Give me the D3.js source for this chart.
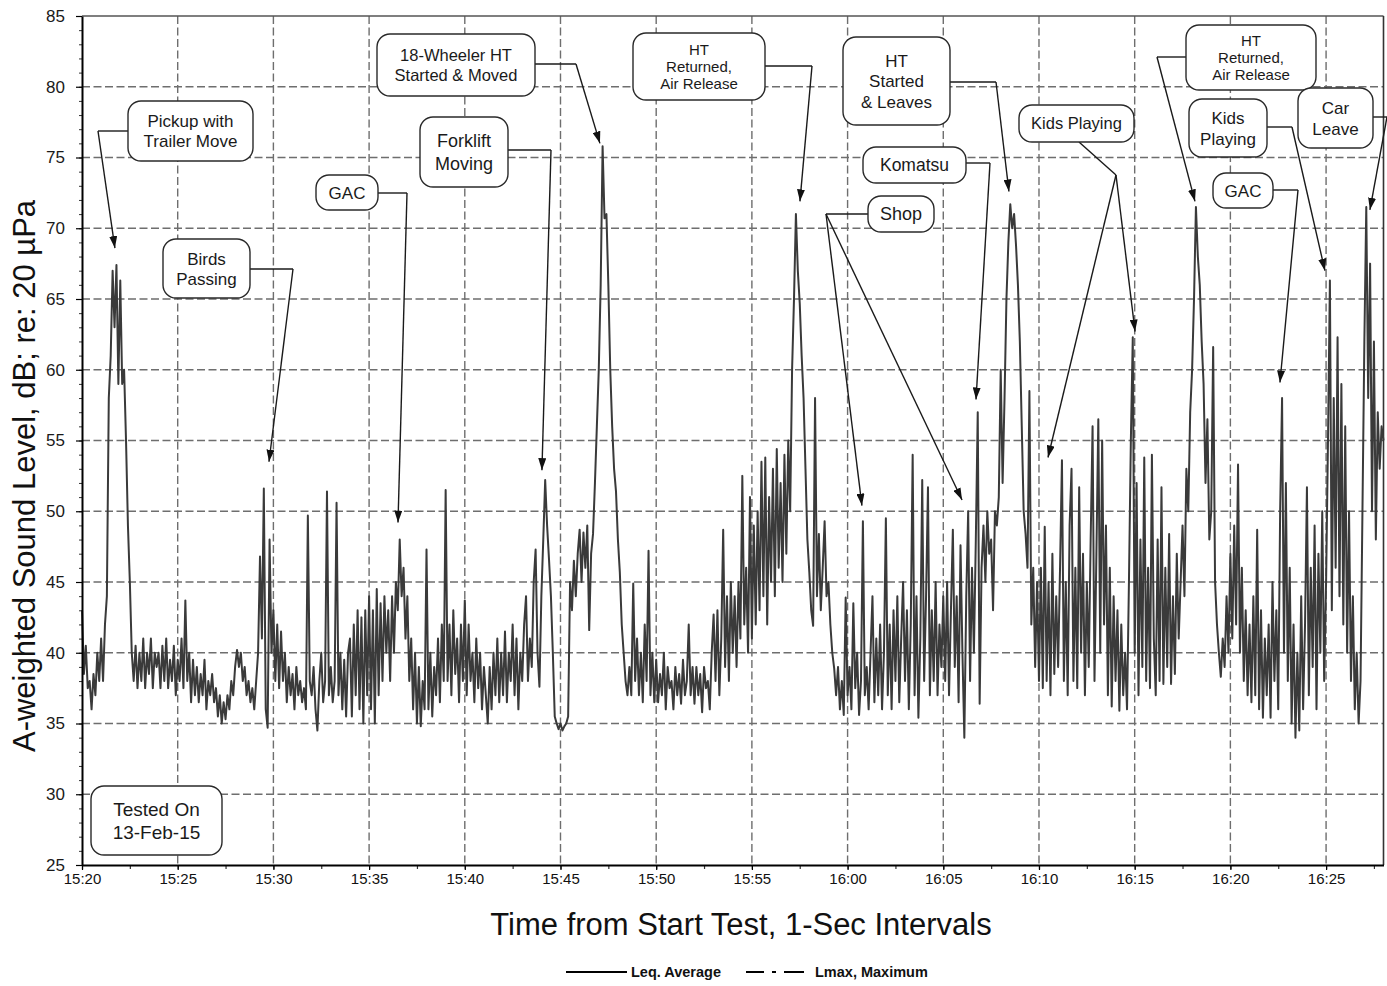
<!DOCTYPE html>
<html><head><meta charset="utf-8">
<script src="https://cdn.jsdelivr.net/npm/d3@7"></script>
<style>
body{margin:0;background:#fff;}
svg{display:block;}
text{font-family:Arial,"Liberation Sans",Helvetica,sans-serif;}
</style>
</head><body>
<svg id="chart" width="1387" height="986"></svg>
<script>
// ---------------- DATA ----------------
// Time axis: minutes after 15:20, one sample every 0.1 min (6 s)
const sampleStepMin = 0.1;
// A-weighted sound level (dB), one row per minute (10 samples)
const leqRows = [
 [43,38.5,40.5,37.5,38,36,38.5,37,40,38],
 [41,38,42,44,58,61,67,63,67.4,59],
 [66.3,59,60,55,49,45,40,38,40.5,37.5],
 [40,38,41,37.5,40,38.5,41,37.5,40,39],
 [40,37.5,40.5,38,41,37.5,39.5,38,40.5,37],
 [39.5,38,41,37.5,43.7,38,40,36.5,39.5,37],
 [39,36.5,38.5,37,39.5,36,38,37,38.5,36.5],
 [37.5,35.5,37,35,36.5,35.3,37,36,38,37],
 [39,40.2,39,40,38,39,37,38,36.5,37.5],
 [36,38,40,46.8,41,51.6,36,34.7,48,40],
 [43,38,42,37.5,41.5,38,40,36.5,39,37],
 [38.5,36,39,37,38,36.5,37.5,36,49.7,38],
 [37,39,36,34.5,38,40,36.5,38,51.4,37],
 [39,36.5,38,50.6,37,40,36,39.5,35.5,40],
 [41,35.5,42,37,43,36,42.5,35,43,37],
 [44,36,43,35,44.5,37,43.5,38,44,40],
 [43,38,44,40,45,43,48,44,46,41],
 [44,38,41,36,40,35,39,34.8,38,36],
 [47.3,36,40,35.5,39,37,41,36.5,42,38],
 [51.5,38,42,37,43,38.5,41,36.5,42,38],
 [43.7,37,42,38,40,36.5,41,37.5,40,36],
 [39,37,35,39,36,40,37,41,36.5,40],
 [37,41.5,36.5,40,38,42,37,41,36,40],
 [38,42,44,38,41,39,45,47.3,40,37.6],
 [44,48,52.2,49,46.6,44,40,35.5,35,34.6],
 [35,34.5,34.8,35,35.5,45,43,46.5,44,47],
 [48.7,45,48.5,46,49,41.6,47,48.4,52,56],
 [60,66,75.8,70.7,71,66,60,56,53,51.4],
 [48,45.7,42,40,38,37,39,37,44.9,38],
 [41,37,40,36.5,42,38,47.2,37,40,36.5],
 [39.5,36.5,38.5,37,40,36,39,37.5,38,36],
 [39,37,38.5,36.4,39.5,37,38,42,37,39],
 [36.4,39,37,38.5,35.8,39,37.5,38,36,40],
 [42.7,38,43,37,41,48.7,39,44,38,45],
 [40,44,39,45,41,52.5,42,46,40,51],
 [41,49,42,50,43,53.5,44,53.8,42,51],
 [45,53,44,54.4,46,52,45,54,47,55],
 [50,60,65,71,67,64.7,61,58,53,48],
 [45.7,43,41.9,58,44,48.4,43,46,49.3,44],
 [45,42,40,38.9,37,39,36,38,35.6,43.9],
 [37,39,36,43.5,37.5,40,35.6,38,49.3,37],
 [39,36,40,44,36.5,41,37,42,36,40],
 [49.5,37,42,36,43,38,44,36.5,41,45],
 [38,43,36,42,54,37,44,35.4,41,52.2],
 [38,44,51.7,37,43,38,45,37,42,39],
 [44,38,45,37,43,48.7,39,44,36.5,47.6],
 [40,34,44,50,38,46,40,48,57,36.4],
 [46,49,45,50,47,48,43,50,49,51],
 [60,52,58,65,69,71.7,70,71,68.8,66],
 [62,56,50,48.4,46,58.5,42,46,39,45],
 [38,46,37.5,48.9,38,45,37,47,38.5,44],
 [39,46,53.6,38,45,37,49,53,38,46],
 [37.5,51.7,40,47,37,45,39,48,56,38],
 [47,56.5,40,55,42,49,37,46,36.2,44],
 [38,43,35.9,42,37,40,36,45,55,62.3],
 [40,52,37,48,39,53.8,38,46,37.5,54],
 [41,37,48,38,51.7,37.8,46,39,48.4,37.8],
 [44,38.5,47,41,45,49,44,53,50,57],
 [60,65,71.5,68,66,62,59,52,56.5,48],
 [50,61.6,45,42,40,38.3,41,39,44,40],
 [47,41,49,42,53.3,40,46,38,43,37],
 [42,36.5,44,37,48.7,36,43,35.4,41,37],
 [42,35.4,45,38,43,36,50,58,40,52],
 [38,46,35,42,34,40,34.5,44,36,42],
 [51.7,37,46,39,49,36,47,40,50,38],
 [45,55,66.3,43,58,46,62.3,44,59,42],
 [56,40,50,38,44,36,40,35,38,50],
 [62,71.5,58,67.5,50,62,48,57,53,56],
 [55]
];
const xTickMinutes = [0,5,10,15,20,25,30,35,40,45,50,55,60,65];
const xTickLabels = ["15:20","15:25","15:30","15:35","15:40","15:45","15:50","15:55","16:00","16:05","16:10","16:15","16:20","16:25"];
const yTicks = [25,30,35,40,45,50,55,60,65,70,75,80,85];
const xDomain = [0,68];
const yDomain = [25,85];
const legendLabels = ["Leq. Average","Lmax, Maximum"];
// annotation labels and the (minute, dB) points their arrows point at
const noteLabels = [
 ["Pickup with","Trailer Move"],
 ["Birds","Passing"],
 ["GAC"],
 ["18-Wheeler  HT","Started & Moved"],
 ["Forklift","Moving"],
 ["HT","Returned,","Air Release"],
 ["HT","Started","& Leaves"],
 ["Komatsu"],
 ["Shop"],
 ["Kids Playing"],
 ["HT","Returned,","Air Release"],
 ["Kids","Playing"],
 ["Car","Leave"],
 ["GAC"],
 ["Tested On","13-Feb-15"]
];
const noteTargets = [
 [[1.72,68.6]],
 [[9.77,53.5]],
 [[16.51,49.2]],
 [[27.06,76.0]],
 [[24.03,52.9]],
 [[37.51,71.9]],
 [[48.43,72.6]],
 [[46.71,57.9]],
 [[40.75,50.4],[45.98,50.8]],
 [[50.47,53.8],[55.02,62.7]],
 [[58.15,71.9]],
 [[64.94,67.0]],
 [[67.29,71.3]],
 [[62.59,59.1]],
 []
];

// ---------------- LAYOUT ----------------
// box: [x, y, w, h], start of leader, knee of leader, font size, line height
const noteLayout = [
 {box:[128,101,125,60], from:[128,131], knee:[98,131], fs:17, lh:20},
 {box:[163,239,87,59], from:[250,269], knee:[293,269], fs:17, lh:20},
 {box:[316,175,62,35], from:[378,193], knee:[407,193], fs:17, lh:20},
 {box:[377,34,158,62], from:[535,64], knee:[576,64], fs:16.5, lh:20},
 {box:[420,117,88,70], from:[508,150], knee:[551,150], fs:18, lh:23},
 {box:[633,33,132,67], from:[765,66], knee:[812,66], fs:15, lh:17},
 {box:[843,37,107,88], from:[950,82], knee:[996,82], fs:17, lh:20.5},
 {box:[863,147,103,36], from:[966,163], knee:[990,163], fs:17.5, lh:20},
 {box:[868,196,66,36], from:[868,214], knee:[826,214], fs:18, lh:20},
 {box:[1019,105,115,37], from:[1079,142], knee:[1116,175], fs:16.5, lh:20},
 {box:[1186,25,130,65], from:[1186,57], knee:[1157,57], fs:15, lh:17},
 {box:[1189,99,78,58], from:[1267,127], knee:[1292,127], fs:17, lh:21},
 {box:[1298,88,75,60], from:[1373,117], knee:[1387,117], fs:17, lh:21},
 {box:[1213,173,60,35], from:[1273,190], knee:[1298,190], fs:17, lh:20},
 {box:[91,786,131,69], from:null, knee:null, fs:19, lh:23}
];

const leqValues = leqRows.flat();
const leqPoints = leqValues.map((v,i)=>[i*sampleStepMin, v]);

const svg = d3.select("#chart");
const M = {left:82, right:1383.5, top:16, bottom:865};
const x = d3.scaleLinear().domain(xDomain).range([M.left, M.right]);
const y = d3.scaleLinear().domain(yDomain).range([M.bottom, M.top]);

// defs: arrowhead
svg.append("defs").append("marker")
  .attr("id","arr").attr("viewBox","0 0 12 8").attr("refX",12).attr("refY",4)
  .attr("markerWidth",12).attr("markerHeight",8).attr("markerUnits","userSpaceOnUse")
  .attr("orient","auto")
  .append("path").attr("d","M0,0 L12,4 L0,8 Z").attr("fill","#111");

// grid
const grid = svg.append("g");
grid.selectAll("line.gv").data(xTickMinutes.filter(d=>d>xDomain[0])).join("line")
  .attr("class","gv")
  .attr("x1",d=>x(d)).attr("x2",d=>x(d)).attr("y1",y(yDomain[1])).attr("y2",y(yDomain[0]))
  .attr("stroke","#6e6e6e").attr("stroke-width",1.4).attr("stroke-dasharray","8,3.5");
grid.selectAll("line.gh").data(yTicks.filter(d=>d>yDomain[0] && d<yDomain[1])).join("line")
  .attr("class","gh")
  .attr("x1",x(xDomain[0])).attr("x2",x(xDomain[1])).attr("y1",d=>y(d)).attr("y2",d=>y(d))
  .attr("stroke","#6e6e6e").attr("stroke-width",1.4).attr("stroke-dasharray","8,3.5");
// frame top and right
svg.append("line").attr("x1",x(xDomain[0])).attr("x2",x(xDomain[1])).attr("y1",y(yDomain[1])).attr("y2",y(yDomain[1]))
  .attr("stroke","#555").attr("stroke-width",1.4);
svg.append("line").attr("x1",x(xDomain[1])).attr("x2",x(xDomain[1])).attr("y1",y(yDomain[1])).attr("y2",y(yDomain[0]))
  .attr("stroke","#333").attr("stroke-width",1.6);

// data line
svg.append("path").datum(leqPoints)
  .attr("fill","none").attr("stroke","#3a3a3a").attr("stroke-width",2)
  .attr("stroke-linejoin","round")
  .attr("d", d3.line().x(d=>x(d[0])).y(d=>y(d[1])));

// axes
const yMinor = d3.range(yDomain[0], yDomain[1]+1, 1);
svg.append("g").attr("transform",`translate(${M.left},0)`)
  .call(d3.axisLeft(y).tickValues(yMinor).tickSize(3).tickSizeOuter(0).tickFormat(""))
  .call(g=>g.select(".domain").remove())
  .call(g=>g.selectAll("line").attr("stroke","#333").attr("stroke-width",1));
const yAxisG = svg.append("g").attr("transform",`translate(${M.left},0)`)
  .call(d3.axisLeft(y).tickValues(yTicks).tickSize(6).tickSizeOuter(0).tickPadding(11).tickFormat(d3.format("d")));
yAxisG.select(".domain").attr("stroke","#000").attr("stroke-width",2);
yAxisG.selectAll("line").attr("stroke","#000").attr("stroke-width",1.2);
yAxisG.selectAll("text").attr("font-size",17).attr("fill","#1a1a1a")
  .attr("font-family","Arial, 'Liberation Sans', sans-serif");

const xMinor = d3.range(xDomain[0], xDomain[1]+0.01, 2.5);
svg.append("g").attr("transform",`translate(0,${M.bottom})`)
  .call(d3.axisBottom(x).tickValues(xMinor).tickSize(4).tickSizeOuter(0).tickFormat(""))
  .call(g=>g.select(".domain").remove())
  .call(g=>g.selectAll("line").attr("stroke","#333").attr("stroke-width",1.2));
const xAxisG = svg.append("g").attr("transform",`translate(0,${M.bottom})`)
  .call(d3.axisBottom(x).tickValues(xTickMinutes).tickSize(5).tickSizeOuter(0).tickPadding(3)
    .tickFormat((d,i)=>xTickLabels[i]));
xAxisG.select(".domain").attr("stroke","#000").attr("stroke-width",2);
xAxisG.selectAll("line").attr("stroke","#000").attr("stroke-width",1.2);
xAxisG.selectAll("text").attr("font-size",15).attr("fill","#111")
  .attr("font-family","Arial, 'Liberation Sans', sans-serif");

// axis titles
svg.append("text").attr("transform","translate(35,476) rotate(-90)")
  .attr("text-anchor","middle").attr("font-size",31).attr("fill","#111")
  .text("A-weighted Sound Level, dB; re: 20 \u00B5Pa");
svg.append("text").attr("x",741).attr("y",935)
  .attr("text-anchor","middle").attr("font-size",31).attr("fill","#111")
  .text("Time from Start Test, 1-Sec Intervals");

// legend
const lg = svg.append("g");
lg.append("line").attr("x1",566).attr("x2",627).attr("y1",972).attr("y2",972)
  .attr("stroke","#000").attr("stroke-width",2);
lg.append("text").attr("x",631).attr("y",977).attr("font-size",14.5).attr("font-weight","bold")
  .attr("fill","#111").text(legendLabels[0]);
lg.append("line").attr("x1",746).attr("x2",804).attr("y1",972).attr("y2",972)
  .attr("stroke","#000").attr("stroke-width",2).attr("stroke-dasharray","18,8,4,8,20");
lg.append("text").attr("x",815).attr("y",977).attr("font-size",14.5).attr("font-weight","bold")
  .attr("fill","#111").text(legendLabels[1]);

// annotations
const notes = svg.append("g");
noteLabels.forEach((lines, k)=>{
  const L = noteLayout[k];
  const tips = noteTargets[k];
  if (L.from) {
    notes.append("path")
      .attr("d",`M${L.from[0]},${L.from[1]} L${L.knee[0]},${L.knee[1]}`)
      .attr("fill","none").attr("stroke","#1a1a1a").attr("stroke-width",1.4);
    tips.forEach(t=>{
      notes.append("path")
        .attr("d",`M${L.knee[0]},${L.knee[1]} L${x(t[0])},${y(t[1])}`)
        .attr("fill","none").attr("stroke","#1a1a1a").attr("stroke-width",1.4)
        .attr("marker-end","url(#arr)");
    });
  }
  const [bx,by,bw,bh] = L.box;
  notes.append("rect").attr("x",bx).attr("y",by).attr("width",bw).attr("height",bh)
    .attr("rx",13).attr("ry",13).attr("fill","#fff").attr("stroke","#2a2a2a").attr("stroke-width",1.4);
  const cx = bx + bw/2, cy = by + bh/2;
  const n = lines.length;
  lines.forEach((s,i)=>{
    notes.append("text").attr("x",cx)
      .attr("y", cy + (i-(n-1)/2)*L.lh + L.fs*0.36)
      .attr("text-anchor","middle").attr("font-size",L.fs).attr("fill","#1a1a1a")
      .text(s);
  });
});
</script>
</body></html>
